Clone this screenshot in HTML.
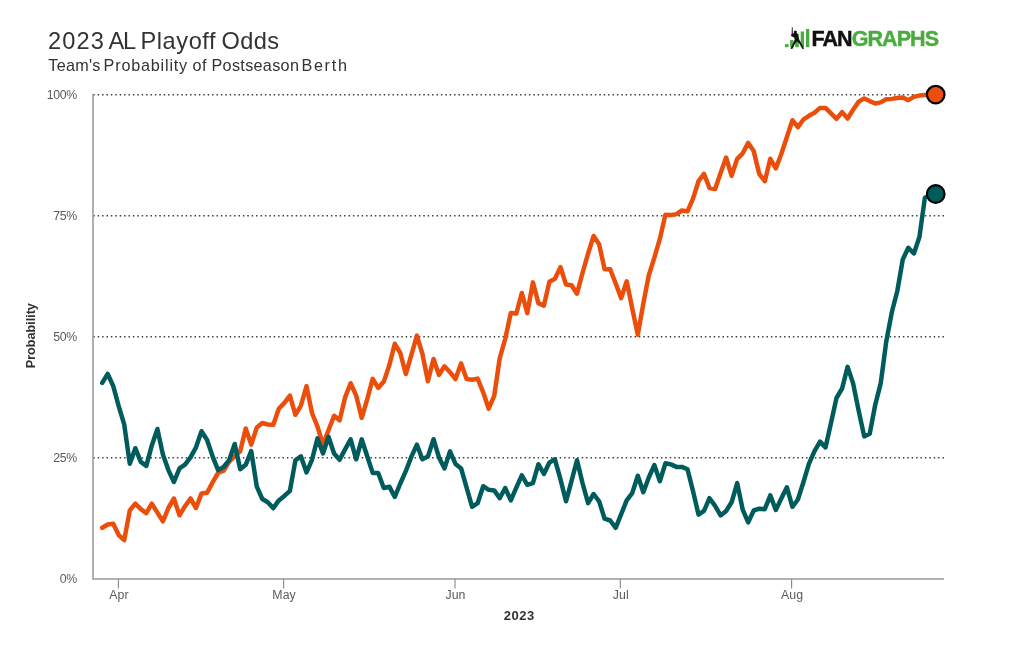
<!DOCTYPE html>
<html lang="en"><head><meta charset="utf-8"><title>2023 AL Playoff Odds</title>
<style>
html,body{margin:0;padding:0;background:#fff;}
body{width:1024px;height:656px;overflow:hidden;font-family:"Liberation Sans",sans-serif;}
svg{display:block;}
svg text{font-family:"Liberation Sans",sans-serif;}
.t1{font-size:23.6px;fill:#333;letter-spacing:0.22px;}
.t2{font-size:16.2px;fill:#333;letter-spacing:0.45px;}
.lab text{font-size:12.3px;fill:#5a5a5a;}
.yl text{letter-spacing:-0.3px;}
.xl text{letter-spacing:0.1px;}
.ax{font-size:13px;font-weight:bold;fill:#333;}
.ax2{letter-spacing:0.5px;}
.grid line{stroke:#3d3d3d;stroke-width:1.5;stroke-dasharray:1.47 2.93;}
.axis line,.axis path{stroke:#999;stroke-width:1.55;fill:none;}
.tk line{stroke:#8c8c8c;stroke-width:1.15;}
.logo{stroke-width:0.45px;font-weight:bold;font-size:21.5px;letter-spacing:-0.92px;}
</style></head><body>
<svg width="1024" height="656" viewBox="0 0 1024 656">
<rect width="1024" height="656" fill="#fff"/>
<text class="t1" y="49.4"><tspan x="47.9" letter-spacing="1.2">2023</tspan> <tspan x="108.6" letter-spacing="-1.3">AL</tspan> <tspan x="140.5" letter-spacing="0.56">Playoff</tspan> <tspan x="221.5" letter-spacing="0.4">Odds</tspan></text>
<text class="t2" y="70.7"><tspan x="48.3" letter-spacing="0.25">Team's</tspan> <tspan x="103.6" letter-spacing="0.8">Probability</tspan> <tspan x="192.6" letter-spacing="0.45">of</tspan> <tspan x="211.5" letter-spacing="0.31">Postseason</tspan> <tspan x="301.4" letter-spacing="1.7">Berth</tspan></text>
<g class="logo-mark">
<rect x="784.9" y="44.1" width="3.7" height="3.1" fill="#4bac3e"/>
<rect x="790.1" y="40.1" width="3.4" height="7.1" fill="#4bac3e"/>
<rect x="795.2" y="33.7" width="3.6" height="13.5" fill="#4bac3e"/>
<rect x="800.7" y="31.5" width="3.3" height="15.7" fill="#4bac3e"/>
<rect x="806" y="29" width="3.3" height="18.2" fill="#4bac3e"/>
<path d="M791.77 27.20 L792.75 27.20 L793.01 34.24 L791.64 34.24 Z" fill="#3a3a3a"/>
<circle cx="795.31" cy="31.94" r="1.55" fill="#111"/>
<path d="M791.04 35.18 L791.47 34.07 L793.18 33.81 L794.03 32.53 L796.72 33.04 L798.04 34.67 L798.47 36.80 L798.81 38.51 L799.58 40.21 L801.28 43.20 L803.59 47.81 L803.93 48.74 L802.56 49.17 L800.77 45.67 L798.98 42.98 L796.85 41.15 L794.88 43.97 L792.49 48.66 L790.96 49.09 L790.70 48.32 L793.18 43.20 L794.71 39.87 L794.29 37.74 L793.09 36.88 L791.39 36.29 Z" fill="#111"/>
</g>
<text class="logo" x="811.4" y="45.9"><tspan fill="#111" stroke="#111">FAN</tspan><tspan fill="#4bac3e" stroke="#4bac3e">GRAPHS</tspan></text>
<g class="grid"><line x1="93.3" x2="944.1" y1="94.70" y2="94.70"/><line x1="93.3" x2="944.1" y1="215.75" y2="215.75"/><line x1="93.3" x2="944.1" y1="336.80" y2="336.80"/><line x1="93.3" x2="944.1" y1="457.85" y2="457.85"/></g>
<g class="axis"><path d="M93.0 94 V578.9 H944.1"/></g>
<g class="tk"><line x1="118.4" x2="118.4" y1="579" y2="588.4"/><line x1="283.6" x2="283.6" y1="579" y2="588.4"/><line x1="455.0" x2="455.0" y1="579" y2="588.4"/><line x1="620.3" x2="620.3" y1="579" y2="588.4"/><line x1="791.6" x2="791.6" y1="579" y2="588.4"/></g>
<g class="lab yl"><text x="76.9" y="98.7" text-anchor="end">100%</text><text x="76.9" y="219.8" text-anchor="end">75%</text><text x="76.9" y="340.8" text-anchor="end">50%</text><text x="76.9" y="461.8" text-anchor="end">25%</text><text x="76.9" y="582.9" text-anchor="end">0%</text></g><g class="lab xl"><text x="118.9" y="598.9" text-anchor="middle">Apr</text><text x="284.1" y="598.9" text-anchor="middle">May</text><text x="455.5" y="598.9" text-anchor="middle">Jun</text><text x="620.8" y="598.9" text-anchor="middle">Jul</text><text x="792.1" y="598.9" text-anchor="middle">Aug</text></g>
<text class="ax ax2" x="519.3" y="619.9" text-anchor="middle">2023</text>
<text class="ax" style="font-size:12.6px" transform="translate(35.4 335.7) rotate(-90)" text-anchor="middle">Probability</text>
<polyline points="102.2,527.8 107.7,524.5 113.2,523.7 118.7,535.1 124.2,540.2 129.8,510.4 135.3,503.6 140.8,509.1 146.3,513.1 151.8,503.6 157.4,512.6 162.9,521.4 168.4,508.0 173.9,498.5 179.5,515.3 185.0,506.2 190.5,498.5 196.0,508.0 201.5,493.4 207.1,492.7 212.6,482.4 218.1,472.9 223.6,470.7 229.2,461.6 234.7,456.1 240.2,451.3 245.7,428.5 251.2,444.6 256.8,427.6 262.3,423.0 267.8,424.5 273.3,424.8 278.8,408.8 284.4,402.9 289.9,395.6 295.4,414.8 300.9,405.6 306.5,386.1 312.0,413.0 317.5,426.7 323.0,444.9 328.5,430.3 334.1,415.7 339.6,420.3 345.1,397.4 350.6,383.2 356.2,395.6 361.7,417.9 367.2,399.3 372.7,378.8 378.2,387.9 383.8,381.6 389.3,365.3 394.8,343.8 400.3,353.0 405.8,374.0 411.4,354.8 416.9,335.6 422.4,353.9 427.9,381.3 433.5,359.0 439.0,374.9 444.5,366.3 450.0,372.2 455.5,379.1 461.1,363.4 466.6,379.1 472.1,379.8 477.6,378.6 483.2,392.3 488.7,408.7 494.2,395.9 499.7,358.4 505.2,339.0 510.8,313.0 516.3,313.6 521.8,293.0 527.3,313.1 532.9,282.4 538.4,303.1 543.9,305.6 549.4,281.7 554.9,278.8 560.5,267.2 566.0,284.6 571.5,285.2 577.0,293.7 582.5,273.0 588.1,253.5 593.6,236.0 599.1,244.2 604.6,269.2 610.2,269.2 615.7,283.5 621.2,298.1 626.7,281.3 632.2,308.2 637.8,334.7 643.3,303.6 648.8,275.3 654.3,257.9 659.9,238.7 665.4,214.7 670.9,215.1 676.4,214.1 681.9,210.5 687.5,211.4 693.0,198.6 698.5,181.2 704.0,173.9 709.5,188.0 715.1,189.1 720.6,173.0 726.1,157.5 731.6,175.8 737.2,158.8 742.7,153.3 748.2,142.9 753.7,151.1 759.2,173.9 764.8,181.2 770.3,158.8 775.8,168.4 781.3,154.0 786.9,137.0 792.4,120.2 797.9,127.2 803.4,119.5 808.9,115.8 814.5,112.7 820.0,107.9 825.5,107.9 831.0,113.4 836.5,118.9 842.1,112.1 847.6,118.5 853.1,109.7 858.6,101.7 864.2,98.4 869.7,101.1 875.2,103.5 880.7,102.4 886.2,99.3 891.8,98.9 897.3,98.0 902.8,97.5 908.3,100.2 913.9,96.8 919.4,95.6 924.9,95.0 930.4,94.8 935.9,94.7" fill="none" stroke="#eb4e0b" stroke-width="4.5" stroke-linejoin="round" stroke-linecap="round"/>
<polyline points="102.2,382.9 107.7,373.9 113.2,386.0 118.7,406.1 124.2,424.4 129.8,463.7 135.3,448.2 140.8,461.9 146.3,465.9 151.8,445.4 157.4,429.0 162.9,454.6 168.4,470.1 173.9,482.0 179.5,468.3 185.0,464.6 190.5,457.3 196.0,447.3 201.5,431.2 207.1,440.0 212.6,456.4 218.1,470.1 223.6,467.0 229.2,460.1 234.7,444.0 240.2,469.3 245.7,464.8 251.2,451.0 256.8,486.7 262.3,499.0 267.8,502.3 273.3,508.1 278.8,500.4 284.4,495.9 289.9,490.9 295.4,460.4 300.9,456.3 306.5,472.4 312.0,459.8 317.5,438.4 323.0,453.5 328.5,436.8 334.1,453.5 339.6,459.8 345.1,449.4 350.6,439.3 356.2,459.3 361.7,439.3 367.2,456.3 372.7,472.9 378.2,473.0 383.8,488.0 389.3,486.7 394.8,496.8 400.3,483.5 405.8,471.2 411.4,456.6 416.9,444.7 422.4,459.3 427.9,456.6 433.5,439.2 439.0,457.5 444.5,468.4 450.0,451.4 455.5,463.9 461.1,468.4 466.6,487.6 472.1,506.8 477.6,503.2 483.2,486.2 488.7,489.8 494.2,490.4 499.7,498.2 505.2,488.0 510.8,500.4 516.3,487.6 521.8,475.4 527.3,484.9 532.9,483.1 538.4,464.2 543.9,474.0 549.4,462.6 554.9,459.3 560.5,479.4 566.0,501.3 571.5,481.2 577.0,460.2 582.5,483.0 588.1,503.1 593.6,494.0 599.1,501.3 604.6,518.7 610.2,520.5 615.7,527.8 621.2,514.1 626.7,500.4 632.2,493.1 637.8,475.7 643.3,492.2 648.8,477.5 654.3,465.1 659.9,481.2 665.4,463.3 670.9,464.4 676.4,466.9 681.9,466.9 687.5,469.3 693.0,491.0 698.5,514.6 704.0,510.8 709.5,498.2 715.1,505.9 720.6,515.4 726.1,511.0 731.6,502.3 737.2,483.1 742.7,509.6 748.2,522.4 753.7,510.5 759.2,508.7 764.8,509.2 770.3,495.3 775.8,510.0 781.3,498.6 786.9,487.3 792.4,506.8 797.9,499.5 803.4,482.2 808.9,463.9 814.5,451.1 820.0,441.6 825.5,447.4 831.0,423.0 836.5,398.0 842.1,388.5 847.6,366.9 853.1,383.4 858.6,410.4 864.2,436.4 869.7,433.8 875.2,405.0 880.7,383.4 886.2,342.0 891.8,312.3 897.3,291.0 902.8,259.4 908.3,247.8 913.9,253.5 919.4,237.0 924.9,197.8 930.4,195.2 935.9,194.0" fill="none" stroke="#005c5c" stroke-width="4.5" stroke-linejoin="round" stroke-linecap="round"/>
<circle cx="935.7" cy="94.6" r="8.8" fill="#eb4e0b" stroke="#000" stroke-width="2.2"/>
<circle cx="935.7" cy="194.0" r="8.8" fill="#005c5c" stroke="#000" stroke-width="2.2"/>
</svg>
</body></html>
